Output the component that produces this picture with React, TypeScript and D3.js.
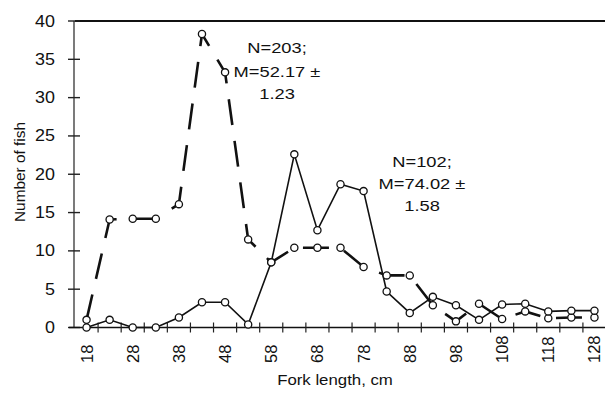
import React, { useEffect, useRef } from 'react';
import * as d3 from 'd3';

// fork length bins, cm (every 5 cm)
const lengths = [18, 23, 28, 33, 38, 43, 48, 53, 58, 63, 68, 73, 78, 83, 88, 93, 98, 103, 108, 113, 118, 123, 128];
const tickLabels = ['18', '28', '38', '48', '58', '68', '78', '88', '98', '108', '118', '128'];
const yTicks = [0, 5, 10, 15, 20, 25, 30, 35, 40];

// dashed curve (N=203)
const sample203 = [1.0, 14.1, 14.2, 14.2, 16.1, 38.3, 33.3, 11.5, 8.5, 10.4, 10.4, 10.4, 7.9, 6.8, 6.8, 2.9, 0.8, 3.1, 1.1, 2.1, 1.2, 1.3, 1.3];
// solid curve (N=102)
const sample102 = [0, 1.0, 0, 0, 1.3, 3.3, 3.3, 0.4, 8.5, 22.6, 12.7, 18.7, 17.8, 4.7, 1.9, 4.0, 2.9, 1.0, 3.0, 3.1, 2.1, 2.2, 2.2];

const notes203 = ['N=203;', 'M=52.17 ±', '1.23'];
const notes102 = ['N=102;', 'M=74.02 ±', '1.58'];

const width = 605;
const height = 395;

const App: React.FC = () => {
  const ref = useRef<SVGSVGElement>(null);

  useEffect(() => {
    const marginLeft = 75;
    const plotRight = 606;
    const marginTop = 21;
    const plotBottom = 327.5;
    const font = 'Arial, "Liberation Sans", sans-serif';

    const svg = d3.select(ref.current);
    svg.selectAll('*').remove();

    const x = d3
      .scaleBand<number>()
      .domain(lengths)
      .range([marginLeft, plotRight])
      .padding(0);
    const cx = (d: number) => x(d)! + x.bandwidth() / 2;

    const y = d3.scaleLinear().domain([0, 40]).range([plotBottom, marginTop]);

    // top frame line
    svg
      .append('line')
      .attr('x1', marginLeft)
      .attr('x2', width)
      .attr('y1', marginTop)
      .attr('y2', marginTop)
      .attr('stroke', '#111')
      .attr('stroke-width', 2);

    // y axis with crossing ticks
    const yAxis = svg.append('g');
    yAxis
      .append('line')
      .attr('x1', marginLeft - 1)
      .attr('x2', marginLeft - 1)
      .attr('y1', marginTop)
      .attr('y2', plotBottom)
      .attr('stroke', '#222')
      .attr('stroke-width', 1.2);
    yTicks.forEach((t) => {
      yAxis
        .append('line')
        .attr('x1', marginLeft - 7)
        .attr('x2', marginLeft + 5)
        .attr('y1', y(t))
        .attr('y2', y(t))
        .attr('stroke', '#222')
        .attr('stroke-width', 1.4);
      yAxis
        .append('text')
        .attr('transform', `translate(55,${y(t) + 5.5}) scale(1.12,1)`)
        .attr('text-anchor', 'end')
        .attr('font-family', font)
        .attr('font-size', 16)
        .attr('fill', '#111')
        .text(t);
    });

    // x axis, ticks at bin boundaries
    const xAxis = svg.append('g');
    xAxis
      .append('line')
      .attr('x1', marginLeft - 6)
      .attr('x2', width)
      .attr('y1', plotBottom)
      .attr('y2', plotBottom)
      .attr('stroke', '#111')
      .attr('stroke-width', 1.6);
    lengths.forEach((d) => {
      xAxis
        .append('line')
        .attr('x1', x(d)! + x.bandwidth())
        .attr('x2', x(d)! + x.bandwidth())
        .attr('y1', plotBottom - 5)
        .attr('y2', plotBottom + 5)
        .attr('stroke', '#222')
        .attr('stroke-width', 1.2);
    });
    tickLabels.forEach((label) => {
      xAxis
        .append('text')
        .attr('transform', `translate(${cx(+label) + 6},363) rotate(-90)`)
        .attr('text-anchor', 'start')
        .attr('font-family', font)
        .attr('font-size', 16.5)
        .attr('fill', '#111')
        .text(label);
    });

    // axis titles
    svg
      .append('text')
      .attr('transform', `translate(335,385) scale(1.2,1)`)
      .attr('text-anchor', 'middle')
      .attr('font-family', font)
      .attr('font-size', 14)
      .attr('fill', '#111')
      .text('Fork length, cm');
    svg
      .append('text')
      .attr('transform', `translate(25,172) rotate(-90) scale(1.1,1)`)
      .attr('text-anchor', 'middle')
      .attr('font-family', font)
      .attr('font-size', 14)
      .attr('fill', '#111')
      .text('Number of fish');

    const line = d3
      .line<number>()
      .x((_d, i) => cx(lengths[i]))
      .y((d) => y(d));

    svg
      .append('path')
      .datum(sample203)
      .attr('d', line)
      .attr('fill', 'none')
      .attr('stroke', '#111')
      .attr('stroke-width', 2.6)
      .attr('stroke-dasharray', '26,16');

    svg
      .append('path')
      .datum(sample102)
      .attr('d', line)
      .attr('fill', 'none')
      .attr('stroke', '#111')
      .attr('stroke-width', 1.6);

    [sample203, sample102].forEach((series) => {
      svg
        .append('g')
        .selectAll('circle')
        .data(series)
        .join('circle')
        .attr('cx', (_d, i) => cx(lengths[i]))
        .attr('cy', (d) => y(d))
        .attr('r', 3.6)
        .attr('fill', '#fff')
        .attr('stroke', '#111')
        .attr('stroke-width', 1.3);
    });

    // annotations
    const annotate = (lines: string[], centerX: number, baselines: number[]) => {
      lines.forEach((txt, i) => {
        svg
          .append('text')
          .attr('transform', `translate(${centerX},${baselines[i]}) scale(1.22,1)`)
          .attr('text-anchor', 'middle')
          .attr('font-family', font)
          .attr('font-size', 15)
          .attr('fill', '#111')
          .text(txt);
      });
    };
    annotate(notes203, 277, [53, 77, 99]);
    annotate(notes102, 422, [167, 189, 211]);

    return () => {
      svg.selectAll('*').remove();
    };
  }, []);

  return (
    <svg
      ref={ref}
      width={width}
      height={height}
      viewBox={`0 0 ${width} ${height}`}
      style={{ position: 'absolute', left: 0, top: 0, background: '#fff' }}
    />
  );
};

export default App;
